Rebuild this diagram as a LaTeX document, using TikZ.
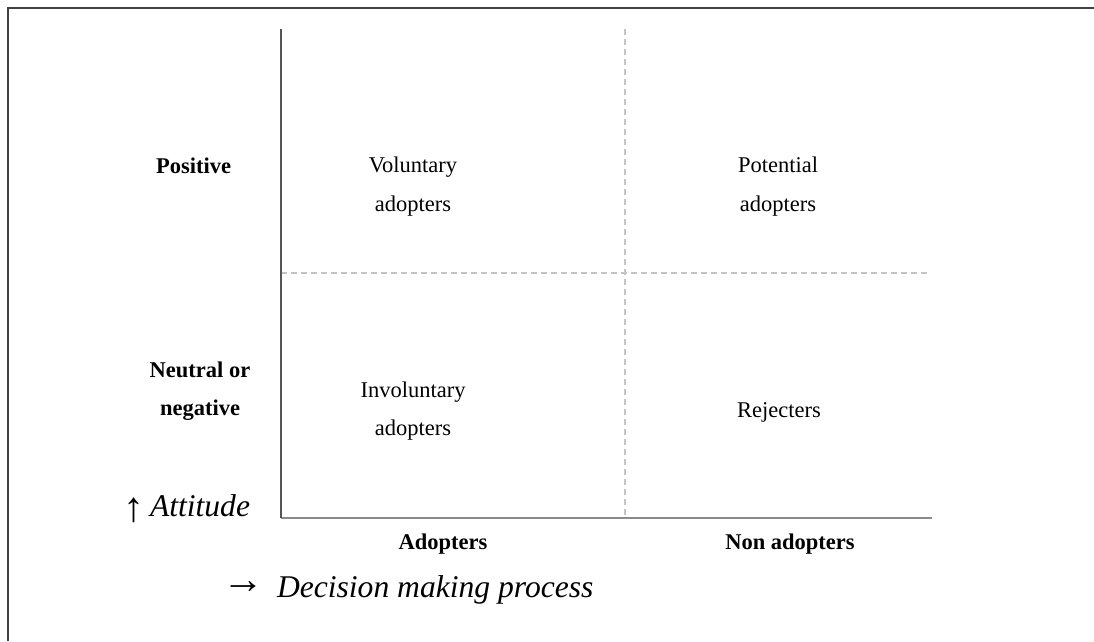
\documentclass[tikz,border=0pt]{standalone}
\usepackage{fontspec}
\setmainfont{Liberation Serif}
\definecolor{frameC}{HTML}{404040}
\definecolor{axisL}{HTML}{555555}
\definecolor{axisB}{HTML}{8A8A8A}
\definecolor{dashC}{HTML}{C4C4C4}
\begin{document}
\begin{tikzpicture}[x=1pt,y=-1pt,
  lbl/.style={inner sep=0pt,outer sep=0pt,font=\fontsize{22.5}{27}\selectfont},
  bld/.style={lbl,font=\fontsize{22.5}{27}\selectfont\bfseries},
  itl/.style={inner sep=0pt,outer sep=0pt,font=\fontsize{31.6}{36}\selectfont\itshape},
  arr/.style={inner sep=0pt,outer sep=0pt,font=\fontsize{42}{48}\selectfont},
  grid/.style={draw=dashC,line width=1.3pt,dash pattern=on 6pt off 4pt},
  axl/.style={draw=axisL,line width=2.2pt},
  axb/.style={draw=axisB,line width=2.2pt}]
\useasboundingbox (0,0) rectangle (1094,641);
\fill[white] (0,0) rectangle (1094,641);
% outer frame (top and left visible)
\draw[frameC,line width=2.6pt] (8,641) -- (8,8) -- (1094,8);
% coordinates
\coordinate (tl) at (281,29);
\coordinate (bl) at (281,518);
\coordinate (br) at (932,518);
\coordinate (vt) at (625,29);
\coordinate (vb) at (625,518);
\coordinate (hl) at (281,273);
\coordinate (hr) at (930,273);
% grid
\draw[grid] (vt) -- (vb);
\draw[grid] (hl) -- (hr);
\draw[axb] (bl) -- (br);
\draw[axl] (tl) -- (bl);
% row labels
\node[bld,anchor=base] (pos) at (193.5,173) {Positive};
\node[bld,anchor=base] (neu1) at (200,377) {Neutral or};
\node[bld,anchor=base] (neu2) at (200,415) {negative};
% quadrant labels
\node[lbl,anchor=base] (vol1) at (413,172) {Voluntary};
\node[lbl,anchor=base] (vol2) at (413,211) {adopters};
\node[lbl,anchor=base] (pot1) at (778,172) {Potential};
\node[lbl,anchor=base] (pot2) at (778,211) {adopters};
\node[lbl,anchor=base] (inv1) at (413,397) {Involuntary};
\node[lbl,anchor=base] (inv2) at (413,435) {adopters};
\node[lbl,anchor=base] (rej) at (779,417) {Rejecters};
% column labels
\node[bld,anchor=base] (ado) at (443,549) {Adopters};
\node[bld,anchor=base] (non) at (790,549) {Non adopters};
% axis titles
\node[arr] (uparr) at (134,510) {↑};
\node[itl,anchor=base west] (att) at (150,516) {Attitude};
\node[arr] (rarr) at (243,588) {→};
\node[itl,anchor=base west] (dec) at (277,597) {Decision making process};
\end{tikzpicture}
\end{document}
